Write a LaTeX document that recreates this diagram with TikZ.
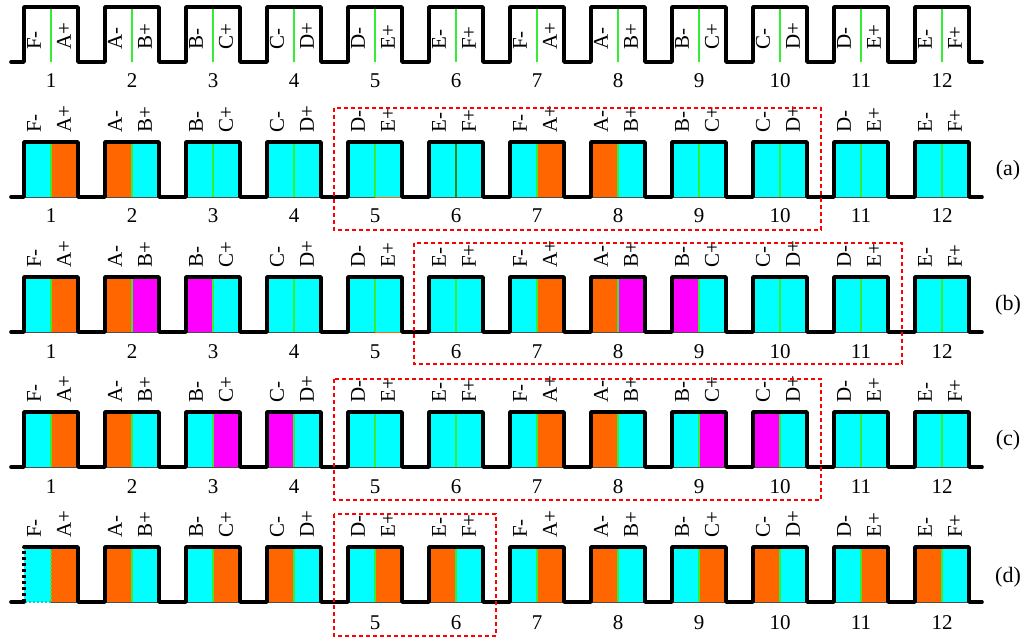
\documentclass[tikz,border=0pt]{standalone}
\usepackage{fontspec}
\setmainfont{Liberation Serif}
\definecolor{cy}{HTML}{00FFFF}
\definecolor{og}{HTML}{FF6600}
\definecolor{mg}{HTML}{FF00FF}
\definecolor{gr}{HTML}{33EE33}
\definecolor{dgr}{HTML}{228822}
\definecolor{rd}{HTML}{FF0000}
\tikzset{
  wave/.style={line width=3.6pt, line join=round, line cap=round, black},
  divider/.style={line width=1.3pt, gr},
  pulsebottom/.style={line width=0.8pt, black!70},
  lab/.style={font=\fontsize{21}{24}\selectfont, inner sep=0pt, rotate=90, anchor=west},
  num/.style={font=\fontsize{21}{24}\selectfont, inner sep=0pt},
  rowlab/.style={font=\fontsize{22}{26}\selectfont, inner sep=0pt},
  redbox/.style={rd, line width=2.3pt, dash pattern=on 4pt off 3pt},
}
\newcommand\fullwave[1]{%
  \draw[wave] (11,#1) -- (24,#1) -- (24,#1-55) -- (78,#1-55) -- (78,#1)
    \foreach \i in {1,...,11}{ -- ({24+81*\i},#1) -- ({24+81*\i},#1-55) -- ({78+81*\i},#1-55) -- ({78+81*\i},#1)}
    -- (982,#1);}
\newcommand\pulsefills[3]{% #1 row name, #2 base, #3 list i/left/right
  \foreach \i/\cl/\cr in {#3}{
    \pgfmathsetmacro\L{24+81*(\i-1)}
    \fill[\cl] (\L,#2-55) rectangle (\L+27,#2);
    \fill[\cr] (\L+27,#2-55) rectangle (\L+54,#2);
    \draw[pulsebottom] (\L,#2) -- (\L+54,#2);
  }}
\newcommand\pulselabels[3]{% #1 row name, #2 y of label bottom, #3 first number shown
  \foreach \i/\l/\r in {1/F/A,2/A/B,3/B/C,4/C/D,5/D/E,6/E/F,7/F/A,8/A/B,9/B/C,10/C/D,11/D/E,12/E/F}{
    \pgfmathsetmacro\L{24+81*(\i-1)}
    \node[lab] (#1-\i-m) at (\L+10,#2) {\l-};
    \node[lab] (#1-\i-p) at (\L+40,#2) {\r+};
  }}
\newcommand\dividers[2]{% #1 base, #2 list
  \foreach \i in {#2}{
    \pgfmathsetmacro\L{24+81*(\i-1)}
    \draw[divider] (\L+27,#1-55) -- (\L+27,#1);
  }}
\newcommand\numbers[3]{% #1 row, #2 y, #3 list
  \foreach \i in {#3}{
    \pgfmathsetmacro\L{24+81*(\i-1)}
    \node[num] (#1-n\i) at (\L+27,#2) {\i};
  }}
\begin{document}
\begin{tikzpicture}[x=1pt,y=-1pt]
\useasboundingbox (0,0) rectangle (1028,637);
% ---------- top row ----------
\dividers{62}{1,...,12}
\fullwave{62}
\pulselabels{t}{50}{1}
\numbers{t}{81}{1,...,12}
% ---------- row (a) ----------
\pulsefills{a}{197}{1/cy/og,2/og/cy,3/cy/cy,4/cy/cy,5/cy/cy,6/cy/cy,7/cy/og,8/og/cy,9/cy/cy,10/cy/cy,11/cy/cy,12/cy/cy}
\draw[og, line width=0.8pt] (375,142) rectangle (402,197);
\dividers{197}{1,2,3,4,5,7,8,9,10,11,12}
\draw[divider, dgr] (456,142) -- (456,197);
\fullwave{197}
\pulselabels{a}{133}{1}
\numbers{a}{216}{1,...,12}
\node[rowlab] (la) at (1008,170) {(a)};
% ---------- row (b) ----------
\pulsefills{b}{332}{1/cy/og,2/og/mg,3/mg/cy,4/cy/cy,5/cy/cy,6/cy/cy,7/cy/og,8/og/mg,9/mg/cy,10/cy/cy,11/cy/cy,12/cy/cy}
\draw[og, line width=0.8pt] (375,277) rectangle (402,332);
\dividers{332}{1,...,12}
\fullwave{332}
\pulselabels{b}{268}{1}
\numbers{b}{352}{1,...,12}
\node[rowlab] (lb) at (1008,305) {(b)};
% ---------- row (c) ----------
\pulsefills{c}{467}{1/cy/og,2/og/cy,3/cy/mg,4/mg/cy,5/cy/cy,6/cy/cy,7/cy/og,8/og/cy,9/cy/mg,10/mg/cy,11/cy/cy,12/cy/cy}
\dividers{467}{1,...,12}
\fullwave{467}
\pulselabels{c}{403}{1}
\numbers{c}{487}{1,...,12}
\node[rowlab] (lc) at (1008,440) {(c)};
% ---------- row (d) ----------
\pulsefills{d}{602}{2/og/cy,3/cy/og,4/og/cy,5/cy/og,6/og/cy,7/cy/og,8/og/cy,9/cy/og,10/og/cy,11/cy/og,12/og/cy}
\fill[cy] (24,547) rectangle (51,602);
\fill[og] (51,547) rectangle (78,602);
\draw[pulsebottom] (51,602) -- (78,602);
\draw[cy!70!black!60!cy, line width=1.4pt, dash pattern=on 2pt off 2pt] (25,602) -- (51,602);
\draw[gr, line width=1.4pt, dash pattern=on 2pt off 2pt] (51,547) -- (51,602);
\dividers{602}{2,...,12}
\draw[wave] (11,602) -- (24,602);
\draw[wave, line cap=butt, dash pattern=on 3pt off 3pt] (24,602) -- (24,547);
\draw[wave] (24,547) -- (78,547) -- (78,602)
    \foreach \i in {1,...,11}{ -- ({24+81*\i},602) -- ({24+81*\i},547) -- ({78+81*\i},547) -- ({78+81*\i},602)}
    -- (982,602);
\pulselabels{d}{538}{1}
\numbers{d}{623}{5,...,12}
\node[rowlab] (ld) at (1008,577) {(d)};
% ---------- highlight boxes ----------
\draw[redbox] (334,108) rectangle (821,230);
\draw[redbox] (414,243) rectangle (902,364);
\draw[redbox] (334,379) rectangle (821,500);
\draw[redbox] (334,514) rectangle (496,636);
\end{tikzpicture}
\end{document}
